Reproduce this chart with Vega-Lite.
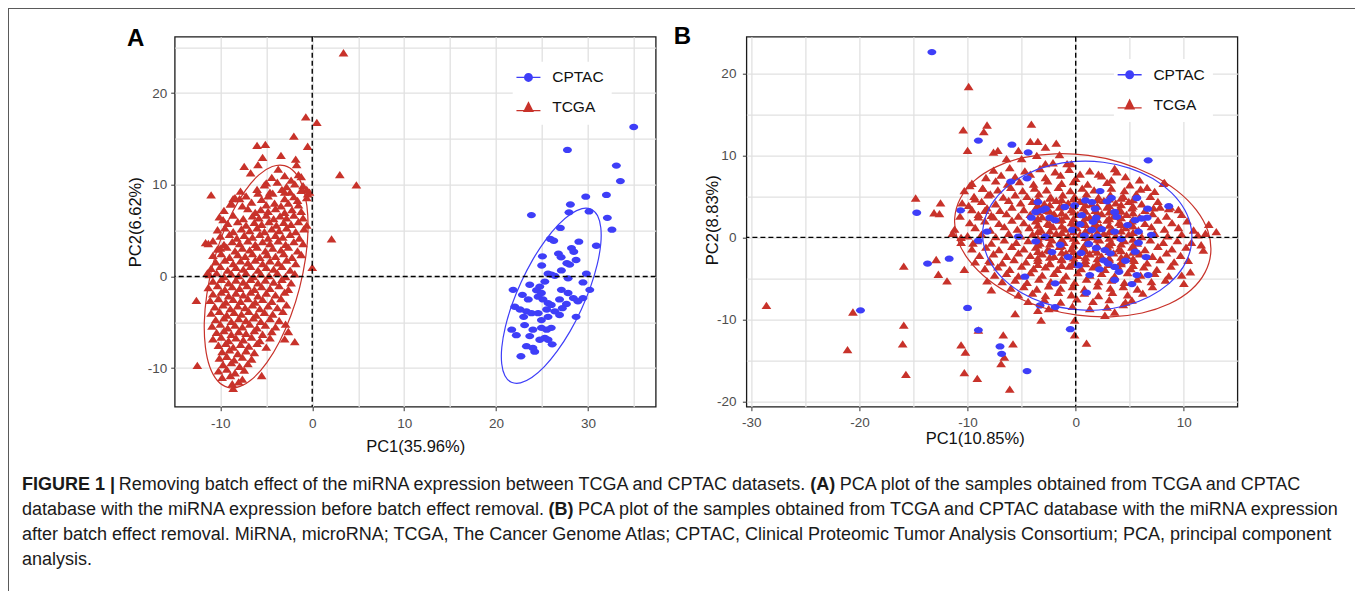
{
"$schema":"https://vega.github.io/schema/vega-lite/v6.json",
"background":"white",
"padding":{"left":8,"top":8,"right":0,"bottom":0},
"config":{
"view":{"stroke":null},
"font":"Liberation Sans",
"axis":{"domain":false,"grid":true,"gridColor":"#E1E1E1","gridWidth":1.3,"tickColor":"#333333","tickSize":4,"tickWidth":1,"labelColor":"#4D4D4D","labelFont":"Liberation Sans","labelFontSize":13.5,"titleFont":"Liberation Sans","titleFontSize":16.5,"titleFontWeight":"normal","titleColor":"#111111","labelOverlap":false,"labelFlush":false}
},
"datasets":{
"groups":[{"g":"CPTAC"},{"g":"TCGA"}],
"cap":[
{"line":1,"part":1,"text":"FIGURE 1 |"},
{"line":1,"part":2,"text":"Removing batch effect of the miRNA expression between TCGA and CPTAC datasets."},
{"line":1,"part":3,"text":"(A)"},
{"line":1,"part":4,"text":"PCA plot of the samples obtained from TCGA and CPTAC"},
{"line":2,"part":1,"text":"database with the miRNA expression before batch effect removal."},
{"line":2,"part":2,"text":"(B)"},
{"line":2,"part":3,"text":"PCA plot of the samples obtained from TCGA and CPTAC database with the miRNA expression"},
{"line":3,"part":1,"text":"after batch effect removal. MiRNA, microRNA; TCGA, The Cancer Genome Atlas; CPTAC, Clinical Proteomic Tumor Analysis Consortium; PCA, principal component"},
{"line":4,"part":1,"text":"analysis."}
],
"ea":[
{"g":"TCGA","i":0,"x":-3.02,"y":12.09},{"g":"TCGA","i":1,"x":-4.35,"y":11.99},{"g":"TCGA","i":2,"x":-5.8,"y":11.08},{"g":"TCGA","i":3,"x":-7.26,"y":9.4},{"g":"TCGA","i":4,"x":-8.65,"y":7.09},{"g":"TCGA","i":5,"x":-9.87,"y":4.29},{"g":"TCGA","i":6,"x":-10.83,"y":1.21},{"g":"TCGA","i":7,"x":-11.47,"y":-1.97},{"g":"TCGA","i":8,"x":-11.74,"y":-5.0},{"g":"TCGA","i":9,"x":-11.62,"y":-7.7},{"g":"TCGA","i":10,"x":-11.14,"y":-9.87},{"g":"TCGA","i":11,"x":-10.3,"y":-11.37},{"g":"TCGA","i":12,"x":-9.18,"y":-12.09},{"g":"TCGA","i":13,"x":-7.85,"y":-11.99},{"g":"TCGA","i":14,"x":-6.41,"y":-11.08},{"g":"TCGA","i":15,"x":-4.94,"y":-9.4},{"g":"TCGA","i":16,"x":-3.55,"y":-7.09},{"g":"TCGA","i":17,"x":-2.33,"y":-4.29},{"g":"TCGA","i":18,"x":-1.37,"y":-1.21},{"g":"TCGA","i":19,"x":-0.73,"y":1.97},{"g":"TCGA","i":20,"x":-0.46,"y":5.0},{"g":"TCGA","i":21,"x":-0.58,"y":7.7},{"g":"TCGA","i":22,"x":-1.07,"y":9.87},{"g":"TCGA","i":23,"x":-1.9,"y":11.37},
{"g":"CPTAC","i":0,"x":30.34,"y":7.33},{"g":"CPTAC","i":1,"x":29.34,"y":7.4},{"g":"CPTAC","i":2,"x":28.12,"y":6.82},{"g":"CPTAC","i":3,"x":26.75,"y":5.63},{"g":"CPTAC","i":4,"x":25.34,"y":3.92},{"g":"CPTAC","i":5,"x":23.96,"y":1.79},{"g":"CPTAC","i":6,"x":22.73,"y":-0.6},{"g":"CPTAC","i":7,"x":21.72,"y":-3.09},{"g":"CPTAC","i":8,"x":21.0,"y":-5.51},{"g":"CPTAC","i":9,"x":20.62,"y":-7.71},{"g":"CPTAC","i":10,"x":20.61,"y":-9.51},{"g":"CPTAC","i":11,"x":20.96,"y":-10.82},{"g":"CPTAC","i":12,"x":21.66,"y":-11.53},{"g":"CPTAC","i":13,"x":22.66,"y":-11.6},{"g":"CPTAC","i":14,"x":23.88,"y":-11.02},{"g":"CPTAC","i":15,"x":25.25,"y":-9.83},{"g":"CPTAC","i":16,"x":26.66,"y":-8.12},{"g":"CPTAC","i":17,"x":28.04,"y":-5.99},{"g":"CPTAC","i":18,"x":29.27,"y":-3.6},{"g":"CPTAC","i":19,"x":30.28,"y":-1.11},{"g":"CPTAC","i":20,"x":31.0,"y":1.31},{"g":"CPTAC","i":21,"x":31.38,"y":3.51},{"g":"CPTAC","i":22,"x":31.39,"y":5.31},{"g":"CPTAC","i":23,"x":31.04,"y":6.62}
],
"eb":[
{"g":"TCGA","i":0,"x":11.96,"y":-4.27},{"g":"TCGA","i":1,"x":12.49,"y":-1.83},{"g":"TCGA","i":2,"x":12.22,"y":0.77},{"g":"TCGA","i":3,"x":11.16,"y":3.32},{"g":"TCGA","i":4,"x":9.38,"y":5.67},{"g":"TCGA","i":5,"x":7.0,"y":7.64},{"g":"TCGA","i":6,"x":4.2,"y":9.12},{"g":"TCGA","i":7,"x":1.15,"y":9.99},{"g":"TCGA","i":8,"x":-1.93,"y":10.19},{"g":"TCGA","i":9,"x":-4.84,"y":9.72},{"g":"TCGA","i":10,"x":-7.37,"y":8.6},{"g":"TCGA","i":11,"x":-9.36,"y":6.92},{"g":"TCGA","i":12,"x":-10.66,"y":4.77},{"g":"TCGA","i":13,"x":-11.19,"y":2.33},{"g":"TCGA","i":14,"x":-10.92,"y":-0.27},{"g":"TCGA","i":15,"x":-9.86,"y":-2.82},{"g":"TCGA","i":16,"x":-8.08,"y":-5.17},{"g":"TCGA","i":17,"x":-5.7,"y":-7.14},{"g":"TCGA","i":18,"x":-2.9,"y":-8.62},{"g":"TCGA","i":19,"x":0.15,"y":-9.49},{"g":"TCGA","i":20,"x":3.23,"y":-9.69},{"g":"TCGA","i":21,"x":6.14,"y":-9.22},{"g":"TCGA","i":22,"x":8.67,"y":-8.1},{"g":"TCGA","i":23,"x":10.66,"y":-6.42},
{"g":"CPTAC","i":0,"x":10.63,"y":-1.37},{"g":"CPTAC","i":1,"x":10.69,"y":1.01},{"g":"CPTAC","i":2,"x":10.09,"y":3.33},{"g":"CPTAC","i":3,"x":8.87,"y":5.43},{"g":"CPTAC","i":4,"x":7.12,"y":7.18},{"g":"CPTAC","i":5,"x":4.96,"y":8.45},{"g":"CPTAC","i":6,"x":2.54,"y":9.16},{"g":"CPTAC","i":7,"x":0.01,"y":9.26},{"g":"CPTAC","i":8,"x":-2.44,"y":8.74},{"g":"CPTAC","i":9,"x":-4.66,"y":7.64},{"g":"CPTAC","i":10,"x":-6.48,"y":6.04},{"g":"CPTAC","i":11,"x":-7.79,"y":4.03},{"g":"CPTAC","i":12,"x":-8.49,"y":1.77},{"g":"CPTAC","i":13,"x":-8.55,"y":-0.61},{"g":"CPTAC","i":14,"x":-7.95,"y":-2.93},{"g":"CPTAC","i":15,"x":-6.73,"y":-5.03},{"g":"CPTAC","i":16,"x":-4.98,"y":-6.78},{"g":"CPTAC","i":17,"x":-2.82,"y":-8.05},{"g":"CPTAC","i":18,"x":-0.4,"y":-8.76},{"g":"CPTAC","i":19,"x":2.13,"y":-8.86},{"g":"CPTAC","i":20,"x":4.58,"y":-8.34},{"g":"CPTAC","i":21,"x":6.8,"y":-7.24},{"g":"CPTAC","i":22,"x":8.62,"y":-5.64},{"g":"CPTAC","i":23,"x":9.93,"y":-3.63}
],
"a":[
{"g":"TCGA","x":3.4,"y":24.4},{"g":"TCGA","x":-0.7,"y":17.4},{"g":"TCGA","x":0.5,"y":16.8},{"g":"TCGA","x":-2.0,"y":15.3},{"g":"TCGA","x":-0.5,"y":14.2},{"g":"TCGA","x":-6.0,"y":14.3},{"g":"TCGA","x":-5.1,"y":14.4},{"g":"TCGA","x":-5.4,"y":13.0},{"g":"TCGA","x":-3.4,"y":13.2},{"g":"TCGA","x":-1.8,"y":12.8},{"g":"TCGA","x":-7.4,"y":12.0},{"g":"TCGA","x":-5.9,"y":12.2},{"g":"TCGA","x":-6.7,"y":11.3},{"g":"TCGA","x":-3.7,"y":11.7},{"g":"TCGA","x":-1.7,"y":12.2},{"g":"TCGA","x":-1.5,"y":11.1},{"g":"TCGA","x":-1.2,"y":10.9},{"g":"TCGA","x":3.0,"y":11.1},{"g":"TCGA","x":4.8,"y":10.0},{"g":"TCGA","x":-11.0,"y":8.9},{"g":"TCGA","x":-5.0,"y":10.2},{"g":"TCGA","x":-5.9,"y":9.1},{"g":"TCGA","x":-4.6,"y":9.2},{"g":"TCGA","x":-0.6,"y":9.5},{"g":"TCGA","x":-0.3,"y":9.2},{"g":"TCGA","x":-8.6,"y":8.5},{"g":"TCGA","x":-7.9,"y":8.5},{"g":"TCGA","x":-8.8,"y":8.0},{"g":"TCGA","x":-3.0,"y":9.2},{"g":"TCGA","x":2.1,"y":4.1},{"g":"TCGA","x":0.0,"y":1.0},{"g":"TCGA","x":-12.6,"y":-2.6},{"g":"TCGA","x":-12.5,"y":-9.7},{"g":"TCGA","x":-5.5,"y":-10.8},{"g":"TCGA","x":-8.6,"y":-12.2},{"g":"TCGA","x":-11.3,"y":3.6},{"g":"TCGA","x":-11.4,"y":0.4},{"g":"TCGA","x":-1.9,"y":-7.1},{"g":"TCGA","x":-3.0,"y":-6.8},{"g":"TCGA","x":-2.6,"y":-6.0},{"g":"TCGA","x":-9.7,"y":6.2},{"g":"TCGA","x":-10.0,"y":3.1},
{"g":"TCGA","x":-4.4,"y":10.8},{"g":"TCGA","x":-3.0,"y":11.0},{"g":"TCGA","x":-2.3,"y":10.5},
{"g":"TCGA","x":-5.2,"y":10.0},{"g":"TCGA","x":-3.8,"y":10.3},{"g":"TCGA","x":-2.8,"y":9.8},{"g":"TCGA","x":-1.9,"y":10.1},{"g":"TCGA","x":-1.0,"y":9.9},
{"g":"TCGA","x":-7.8,"y":9.3},{"g":"TCGA","x":-6.0,"y":9.5},{"g":"TCGA","x":-4.3,"y":9.1},{"g":"TCGA","x":-3.3,"y":9.5},{"g":"TCGA","x":-2.4,"y":9.2},{"g":"TCGA","x":-1.2,"y":9.4},{"g":"TCGA","x":-0.5,"y":9.0},
{"g":"TCGA","x":-8.4,"y":8.6},{"g":"TCGA","x":-7.2,"y":8.8},{"g":"TCGA","x":-5.5,"y":8.4},{"g":"TCGA","x":-4.8,"y":8.8},{"g":"TCGA","x":-3.0,"y":8.5},{"g":"TCGA","x":-2.0,"y":8.7},{"g":"TCGA","x":-1.6,"y":8.3},{"g":"TCGA","x":-0.6,"y":8.6},
{"g":"TCGA","x":-8.9,"y":7.9},{"g":"TCGA","x":-7.6,"y":7.7},{"g":"TCGA","x":-6.6,"y":8.1},{"g":"TCGA","x":-5.0,"y":7.8},{"g":"TCGA","x":-4.1,"y":8.0},{"g":"TCGA","x":-3.4,"y":7.7},{"g":"TCGA","x":-2.6,"y":8.0},{"g":"TCGA","x":-1.5,"y":7.8},
{"g":"TCGA","x":-9.6,"y":7.2},{"g":"TCGA","x":-7.0,"y":7.4},{"g":"TCGA","x":-6.2,"y":7.0},{"g":"TCGA","x":-5.6,"y":7.3},{"g":"TCGA","x":-4.8,"y":7.1},{"g":"TCGA","x":-4.0,"y":7.4},{"g":"TCGA","x":-3.0,"y":7.0},{"g":"TCGA","x":-2.2,"y":7.3},{"g":"TCGA","x":-1.2,"y":7.1},
{"g":"TCGA","x":-10.1,"y":6.5},{"g":"TCGA","x":-8.6,"y":6.7},{"g":"TCGA","x":-7.5,"y":6.3},{"g":"TCGA","x":-6.5,"y":6.6},{"g":"TCGA","x":-5.8,"y":6.4},{"g":"TCGA","x":-5.0,"y":6.7},{"g":"TCGA","x":-4.2,"y":6.3},{"g":"TCGA","x":-3.5,"y":6.6},{"g":"TCGA","x":-2.8,"y":6.4},{"g":"TCGA","x":-2.0,"y":6.7},{"g":"TCGA","x":-1.0,"y":6.4},
{"g":"TCGA","x":-9.2,"y":5.8},{"g":"TCGA","x":-8.1,"y":6.0},{"g":"TCGA","x":-7.2,"y":5.6},{"g":"TCGA","x":-6.3,"y":5.9},{"g":"TCGA","x":-5.5,"y":5.7},{"g":"TCGA","x":-4.7,"y":6.0},{"g":"TCGA","x":-3.9,"y":5.6},{"g":"TCGA","x":-3.1,"y":5.9},{"g":"TCGA","x":-2.3,"y":5.7},{"g":"TCGA","x":-1.5,"y":6.0},{"g":"TCGA","x":-0.6,"y":5.6},
{"g":"TCGA","x":-10.3,"y":5.1},{"g":"TCGA","x":-9.5,"y":5.3},{"g":"TCGA","x":-8.6,"y":4.9},{"g":"TCGA","x":-7.7,"y":5.2},{"g":"TCGA","x":-6.8,"y":5.0},{"g":"TCGA","x":-6.0,"y":5.3},{"g":"TCGA","x":-5.2,"y":4.9},{"g":"TCGA","x":-4.4,"y":5.2},{"g":"TCGA","x":-3.6,"y":5.0},{"g":"TCGA","x":-2.8,"y":5.3},{"g":"TCGA","x":-1.8,"y":4.9},{"g":"TCGA","x":-0.9,"y":5.2},
{"g":"TCGA","x":-10.0,"y":4.4},{"g":"TCGA","x":-9.0,"y":4.6},{"g":"TCGA","x":-8.2,"y":4.2},{"g":"TCGA","x":-7.4,"y":4.5},{"g":"TCGA","x":-6.5,"y":4.3},{"g":"TCGA","x":-5.7,"y":4.6},{"g":"TCGA","x":-4.8,"y":4.2},{"g":"TCGA","x":-4.0,"y":4.5},{"g":"TCGA","x":-3.2,"y":4.3},{"g":"TCGA","x":-2.4,"y":4.6},{"g":"TCGA","x":-1.4,"y":4.2},
{"g":"TCGA","x":-11.6,"y":3.7},{"g":"TCGA","x":-10.8,"y":3.9},{"g":"TCGA","x":-9.6,"y":3.5},{"g":"TCGA","x":-8.7,"y":3.8},{"g":"TCGA","x":-7.9,"y":3.6},{"g":"TCGA","x":-7.0,"y":3.9},{"g":"TCGA","x":-6.2,"y":3.5},{"g":"TCGA","x":-5.4,"y":3.8},{"g":"TCGA","x":-4.6,"y":3.6},{"g":"TCGA","x":-3.7,"y":3.9},{"g":"TCGA","x":-2.9,"y":3.5},{"g":"TCGA","x":-2.0,"y":3.8},{"g":"TCGA","x":-1.0,"y":3.6},
{"g":"TCGA","x":-10.3,"y":3.0},{"g":"TCGA","x":-9.3,"y":3.2},{"g":"TCGA","x":-8.4,"y":2.8},{"g":"TCGA","x":-7.6,"y":3.1},{"g":"TCGA","x":-6.8,"y":2.9},{"g":"TCGA","x":-6.0,"y":3.2},{"g":"TCGA","x":-5.1,"y":2.8},{"g":"TCGA","x":-4.3,"y":3.1},{"g":"TCGA","x":-3.4,"y":2.9},{"g":"TCGA","x":-2.6,"y":3.2},{"g":"TCGA","x":-1.6,"y":2.8},
{"g":"TCGA","x":-10.8,"y":2.3},{"g":"TCGA","x":-9.9,"y":2.5},{"g":"TCGA","x":-9.0,"y":2.1},{"g":"TCGA","x":-8.1,"y":2.4},{"g":"TCGA","x":-7.3,"y":2.2},{"g":"TCGA","x":-6.5,"y":2.5},{"g":"TCGA","x":-5.7,"y":2.1},{"g":"TCGA","x":-4.9,"y":2.4},{"g":"TCGA","x":-4.0,"y":2.2},{"g":"TCGA","x":-3.1,"y":2.5},{"g":"TCGA","x":-2.2,"y":2.1},{"g":"TCGA","x":-1.2,"y":2.4},
{"g":"TCGA","x":-10.5,"y":1.6},{"g":"TCGA","x":-9.5,"y":1.8},{"g":"TCGA","x":-8.6,"y":1.4},{"g":"TCGA","x":-7.8,"y":1.7},{"g":"TCGA","x":-7.0,"y":1.5},{"g":"TCGA","x":-6.2,"y":1.8},{"g":"TCGA","x":-5.4,"y":1.4},{"g":"TCGA","x":-4.6,"y":1.7},{"g":"TCGA","x":-3.7,"y":1.5},{"g":"TCGA","x":-2.8,"y":1.8},{"g":"TCGA","x":-1.8,"y":1.4},
{"g":"TCGA","x":-11.0,"y":0.9},{"g":"TCGA","x":-10.0,"y":1.1},{"g":"TCGA","x":-9.2,"y":0.7},{"g":"TCGA","x":-8.3,"y":1.0},{"g":"TCGA","x":-7.5,"y":0.8},{"g":"TCGA","x":-6.7,"y":1.1},{"g":"TCGA","x":-5.9,"y":0.7},{"g":"TCGA","x":-5.0,"y":1.0},{"g":"TCGA","x":-4.2,"y":0.8},{"g":"TCGA","x":-3.3,"y":1.1},{"g":"TCGA","x":-2.4,"y":0.7},
{"g":"TCGA","x":-11.2,"y":0.2},{"g":"TCGA","x":-10.4,"y":0.4},{"g":"TCGA","x":-9.6,"y":0.0},{"g":"TCGA","x":-8.8,"y":0.3},{"g":"TCGA","x":-8.0,"y":0.1},{"g":"TCGA","x":-7.2,"y":0.4},{"g":"TCGA","x":-6.4,"y":0.0},{"g":"TCGA","x":-5.6,"y":0.3},{"g":"TCGA","x":-4.7,"y":0.1},{"g":"TCGA","x":-3.8,"y":0.4},{"g":"TCGA","x":-2.9,"y":0.0},{"g":"TCGA","x":-1.9,"y":0.3},
{"g":"TCGA","x":-10.8,"y":-0.5},{"g":"TCGA","x":-9.9,"y":-0.3},{"g":"TCGA","x":-9.1,"y":-0.7},{"g":"TCGA","x":-8.3,"y":-0.4},{"g":"TCGA","x":-7.5,"y":-0.6},{"g":"TCGA","x":-6.7,"y":-0.3},{"g":"TCGA","x":-5.9,"y":-0.7},{"g":"TCGA","x":-5.1,"y":-0.4},{"g":"TCGA","x":-4.2,"y":-0.6},{"g":"TCGA","x":-3.3,"y":-0.3},{"g":"TCGA","x":-2.3,"y":-0.7},
{"g":"TCGA","x":-11.3,"y":-1.2},{"g":"TCGA","x":-10.3,"y":-1.0},{"g":"TCGA","x":-9.5,"y":-1.4},{"g":"TCGA","x":-8.7,"y":-1.1},{"g":"TCGA","x":-7.9,"y":-1.3},{"g":"TCGA","x":-7.1,"y":-1.0},{"g":"TCGA","x":-6.3,"y":-1.4},{"g":"TCGA","x":-5.5,"y":-1.1},{"g":"TCGA","x":-4.6,"y":-1.3},{"g":"TCGA","x":-3.6,"y":-1.0},{"g":"TCGA","x":-2.6,"y":-1.4},
{"g":"TCGA","x":-10.8,"y":-1.9},{"g":"TCGA","x":-9.9,"y":-1.7},{"g":"TCGA","x":-9.1,"y":-2.1},{"g":"TCGA","x":-8.3,"y":-1.8},{"g":"TCGA","x":-7.5,"y":-2.0},{"g":"TCGA","x":-6.7,"y":-1.7},{"g":"TCGA","x":-5.9,"y":-2.1},{"g":"TCGA","x":-5.0,"y":-1.8},{"g":"TCGA","x":-4.0,"y":-2.0},{"g":"TCGA","x":-3.0,"y":-1.7},
{"g":"TCGA","x":-11.1,"y":-2.6},{"g":"TCGA","x":-10.2,"y":-2.4},{"g":"TCGA","x":-9.4,"y":-2.8},{"g":"TCGA","x":-8.6,"y":-2.5},{"g":"TCGA","x":-7.8,"y":-2.7},{"g":"TCGA","x":-7.0,"y":-2.4},{"g":"TCGA","x":-6.2,"y":-2.8},{"g":"TCGA","x":-5.4,"y":-2.5},{"g":"TCGA","x":-4.4,"y":-2.7},{"g":"TCGA","x":-3.4,"y":-2.4},
{"g":"TCGA","x":-10.6,"y":-3.3},{"g":"TCGA","x":-9.7,"y":-3.1},{"g":"TCGA","x":-8.9,"y":-3.5},{"g":"TCGA","x":-8.1,"y":-3.2},{"g":"TCGA","x":-7.3,"y":-3.4},{"g":"TCGA","x":-6.5,"y":-3.1},{"g":"TCGA","x":-5.7,"y":-3.5},{"g":"TCGA","x":-4.8,"y":-3.2},{"g":"TCGA","x":-3.8,"y":-3.4},{"g":"TCGA","x":-2.8,"y":-3.1},
{"g":"TCGA","x":-11.0,"y":-4.0},{"g":"TCGA","x":-10.1,"y":-3.8},{"g":"TCGA","x":-9.3,"y":-4.2},{"g":"TCGA","x":-8.5,"y":-3.9},{"g":"TCGA","x":-7.7,"y":-4.1},{"g":"TCGA","x":-6.9,"y":-3.8},{"g":"TCGA","x":-6.1,"y":-4.2},{"g":"TCGA","x":-5.2,"y":-3.9},{"g":"TCGA","x":-4.3,"y":-4.1},{"g":"TCGA","x":-3.2,"y":-3.8},
{"g":"TCGA","x":-10.5,"y":-4.7},{"g":"TCGA","x":-9.6,"y":-4.5},{"g":"TCGA","x":-8.8,"y":-4.9},{"g":"TCGA","x":-8.0,"y":-4.6},{"g":"TCGA","x":-7.2,"y":-4.8},{"g":"TCGA","x":-6.4,"y":-4.5},{"g":"TCGA","x":-5.6,"y":-4.9},{"g":"TCGA","x":-4.6,"y":-4.6},{"g":"TCGA","x":-3.6,"y":-4.8},
{"g":"TCGA","x":-10.9,"y":-5.4},{"g":"TCGA","x":-10.0,"y":-5.2},{"g":"TCGA","x":-9.2,"y":-5.6},{"g":"TCGA","x":-8.4,"y":-5.3},{"g":"TCGA","x":-7.6,"y":-5.5},{"g":"TCGA","x":-6.8,"y":-5.2},{"g":"TCGA","x":-6.0,"y":-5.6},{"g":"TCGA","x":-5.1,"y":-5.3},{"g":"TCGA","x":-4.0,"y":-5.5},{"g":"TCGA","x":-2.9,"y":-5.2},
{"g":"TCGA","x":-10.4,"y":-6.1},{"g":"TCGA","x":-9.6,"y":-5.9},{"g":"TCGA","x":-8.8,"y":-6.3},{"g":"TCGA","x":-8.0,"y":-6.0},{"g":"TCGA","x":-7.2,"y":-6.2},{"g":"TCGA","x":-6.3,"y":-5.9},{"g":"TCGA","x":-5.4,"y":-6.3},{"g":"TCGA","x":-4.4,"y":-6.0},
{"g":"TCGA","x":-10.8,"y":-6.8},{"g":"TCGA","x":-9.9,"y":-6.6},{"g":"TCGA","x":-9.1,"y":-7.0},{"g":"TCGA","x":-8.3,"y":-6.7},{"g":"TCGA","x":-7.5,"y":-6.9},{"g":"TCGA","x":-6.6,"y":-6.6},{"g":"TCGA","x":-5.7,"y":-7.0},{"g":"TCGA","x":-4.6,"y":-6.7},
{"g":"TCGA","x":-10.2,"y":-7.5},{"g":"TCGA","x":-9.4,"y":-7.3},{"g":"TCGA","x":-8.6,"y":-7.7},{"g":"TCGA","x":-7.8,"y":-7.4},{"g":"TCGA","x":-6.9,"y":-7.6},{"g":"TCGA","x":-6.0,"y":-7.3},{"g":"TCGA","x":-5.0,"y":-7.7},
{"g":"TCGA","x":-9.8,"y":-8.2},{"g":"TCGA","x":-9.0,"y":-8.0},{"g":"TCGA","x":-8.1,"y":-8.4},{"g":"TCGA","x":-7.2,"y":-8.1},{"g":"TCGA","x":-6.3,"y":-8.3},
{"g":"TCGA","x":-10.1,"y":-8.9},{"g":"TCGA","x":-9.3,"y":-8.7},{"g":"TCGA","x":-8.5,"y":-9.1},{"g":"TCGA","x":-7.6,"y":-8.8},{"g":"TCGA","x":-6.6,"y":-9.0},
{"g":"TCGA","x":-9.7,"y":-9.6},{"g":"TCGA","x":-8.8,"y":-9.4},{"g":"TCGA","x":-7.9,"y":-9.8},{"g":"TCGA","x":-7.0,"y":-9.5},
{"g":"TCGA","x":-10.2,"y":-10.3},{"g":"TCGA","x":-9.3,"y":-10.1},{"g":"TCGA","x":-8.4,"y":-10.5},{"g":"TCGA","x":-7.4,"y":-10.2},
{"g":"TCGA","x":-9.8,"y":-11.0},{"g":"TCGA","x":-8.9,"y":-10.8},{"g":"TCGA","x":-7.6,"y":-11.2},
{"g":"TCGA","x":-8.7,"y":-11.7},{"g":"TCGA","x":-8.0,"y":-11.5},
{"g":"CPTAC","x":34.97,"y":16.3},{"g":"CPTAC","x":27.76,"y":13.8},{"g":"CPTAC","x":33.08,"y":12.1},{"g":"CPTAC","x":33.52,"y":10.4},{"g":"CPTAC","x":29.75,"y":8.7},{"g":"CPTAC","x":32.0,"y":8.9},{"g":"CPTAC","x":28.08,"y":7.85},{"g":"CPTAC","x":27.93,"y":7.0},{"g":"CPTAC","x":30.11,"y":7.1},{"g":"CPTAC","x":23.84,"y":6.7},{"g":"CPTAC","x":32.1,"y":6.4},{"g":"CPTAC","x":32.6,"y":5.1},{"g":"CPTAC","x":26.99,"y":5.3},{"g":"CPTAC","x":25.9,"y":4.1},{"g":"CPTAC","x":26.27,"y":3.9},{"g":"CPTAC","x":29.0,"y":3.8},{"g":"CPTAC","x":30.9,"y":3.35},{"g":"CPTAC","x":28.2,"y":3.1},{"g":"CPTAC","x":28.45,"y":2.7},{"g":"CPTAC","x":26.78,"y":2.5},{"g":"CPTAC","x":27.07,"y":2.1},{"g":"CPTAC","x":25.04,"y":2.2},{"g":"CPTAC","x":28.7,"y":1.8},{"g":"CPTAC","x":27.7,"y":1.45},{"g":"CPTAC","x":28.0,"y":1.3},{"g":"CPTAC","x":24.96,"y":1.2},{"g":"CPTAC","x":27.1,"y":0.66},{"g":"CPTAC","x":25.65,"y":0.3},{"g":"CPTAC","x":26.02,"y":0.2},{"g":"CPTAC","x":26.38,"y":0.07},{"g":"CPTAC","x":29.82,"y":0.3},{"g":"CPTAC","x":27.83,"y":-0.2},{"g":"CPTAC","x":25.3,"y":-0.55},{"g":"CPTAC","x":24.75,"y":-1.1},{"g":"CPTAC","x":24.4,"y":-1.5},{"g":"CPTAC","x":24.93,"y":-1.8},{"g":"CPTAC","x":29.45,"y":-0.65},{"g":"CPTAC","x":21.85,"y":-1.45},{"g":"CPTAC","x":23.66,"y":-0.9},{"g":"CPTAC","x":27.1,"y":-1.45},{"g":"CPTAC","x":30.19,"y":-1.45},{"g":"CPTAC","x":22.86,"y":-2.0},{"g":"CPTAC","x":24.57,"y":-2.2},{"g":"CPTAC","x":25.1,"y":-2.5},{"g":"CPTAC","x":25.65,"y":-2.9},{"g":"CPTAC","x":26.0,"y":-3.1},{"g":"CPTAC","x":27.83,"y":-1.8},{"g":"CPTAC","x":28.4,"y":-2.35},{"g":"CPTAC","x":28.9,"y":-2.7},{"g":"CPTAC","x":29.45,"y":-2.35},{"g":"CPTAC","x":22.03,"y":-3.3},{"g":"CPTAC","x":22.6,"y":-3.6},{"g":"CPTAC","x":23.3,"y":-3.8},{"g":"CPTAC","x":23.85,"y":-4.0},{"g":"CPTAC","x":24.57,"y":-4.0},{"g":"CPTAC","x":25.5,"y":-3.6},{"g":"CPTAC","x":26.38,"y":-3.8},{"g":"CPTAC","x":26.9,"y":-4.2},{"g":"CPTAC","x":27.65,"y":-3.0},{"g":"CPTAC","x":28.7,"y":-4.4},{"g":"CPTAC","x":24.93,"y":-4.75},{"g":"CPTAC","x":25.65,"y":-4.4},{"g":"CPTAC","x":21.7,"y":-5.8},{"g":"CPTAC","x":22.2,"y":-6.4},{"g":"CPTAC","x":23.1,"y":-5.3},{"g":"CPTAC","x":23.66,"y":-6.5},{"g":"CPTAC","x":24.93,"y":-5.6},{"g":"CPTAC","x":25.5,"y":-5.8},{"g":"CPTAC","x":26.0,"y":-5.6},{"g":"CPTAC","x":24.75,"y":-6.9},{"g":"CPTAC","x":25.3,"y":-6.7},{"g":"CPTAC","x":25.65,"y":-6.9},{"g":"CPTAC","x":23.3,"y":-7.6},{"g":"CPTAC","x":24.0,"y":-7.8},{"g":"CPTAC","x":24.2,"y":-8.2},{"g":"CPTAC","x":26.1,"y":-7.4},{"g":"CPTAC","x":22.7,"y":-8.7},{"g":"CPTAC","x":26.9,"y":-2.5},{"g":"CPTAC","x":27.2,"y":-3.45},{"g":"CPTAC","x":23.5,"y":-2.5},{"g":"CPTAC","x":23.0,"y":-4.4},{"g":"CPTAC","x":24.0,"y":-5.8}
],
"b":[
{"g":"TCGA","x":-9.9,"y":18.4},{"g":"TCGA","x":-10.4,"y":13.1},{"g":"TCGA","x":-8.2,"y":13.7},{"g":"TCGA","x":-8.5,"y":12.9},{"g":"TCGA","x":-10.0,"y":10.6},{"g":"TCGA","x":-7.6,"y":10.4},{"g":"TCGA","x":-9.8,"y":6.3},{"g":"TCGA","x":-8.6,"y":6.0},{"g":"TCGA","x":-8.1,"y":5.2},{"g":"TCGA","x":-9.3,"y":4.7},{"g":"TCGA","x":-14.8,"y":4.8},{"g":"TCGA","x":-12.5,"y":4.2},{"g":"TCGA","x":-13.1,"y":3.0},{"g":"TCGA","x":-12.6,"y":2.9},{"g":"TCGA","x":-9.9,"y":3.9},{"g":"TCGA","x":-8.4,"y":3.3},{"g":"TCGA","x":-9.0,"y":2.5},{"g":"TCGA","x":-7.8,"y":2.7},
{"g":"TCGA","x":-4.1,"y":13.8},{"g":"TCGA","x":-4.2,"y":11.7},{"g":"TCGA","x":-3.5,"y":11.7},{"g":"TCGA","x":-2.8,"y":11.0},{"g":"TCGA","x":-1.8,"y":11.5},{"g":"TCGA","x":-7.2,"y":10.6},{"g":"TCGA","x":-5.3,"y":10.6},{"g":"TCGA","x":-1.5,"y":10.1},{"g":"TCGA","x":-6.4,"y":9.6},{"g":"TCGA","x":-5.0,"y":9.6},{"g":"TCGA","x":-3.6,"y":10.0},{"g":"TCGA","x":-2.8,"y":9.0},{"g":"TCGA","x":-2.1,"y":9.1},{"g":"TCGA","x":-0.8,"y":9.0},{"g":"TCGA","x":-0.4,"y":9.0},{"g":"TCGA","x":3.6,"y":8.4},{"g":"TCGA","x":3.8,"y":8.0},{"g":"TCGA","x":2.1,"y":7.7},{"g":"TCGA","x":2.4,"y":7.5},{"g":"TCGA","x":0.4,"y":7.7},{"g":"TCGA","x":5.9,"y":7.0},{"g":"TCGA","x":8.1,"y":6.6},{"g":"TCGA","x":7.2,"y":3.6},{"g":"TCGA","x":8.6,"y":3.5},
{"g":"TCGA","x":-11.4,"y":0.5},{"g":"TCGA","x":-10.6,"y":0.0},{"g":"TCGA","x":-9.5,"y":-0.7},{"g":"TCGA","x":-12.9,"y":-2.7},{"g":"TCGA","x":-15.9,"y":-3.5},{"g":"TCGA","x":-12.7,"y":-4.5},{"g":"TCGA","x":-11.9,"y":-5.3},{"g":"TCGA","x":-10.3,"y":-3.9},{"g":"TCGA","x":-8.2,"y":-5.3},{"g":"TCGA","x":-7.8,"y":-6.4},{"g":"TCGA","x":-7.9,"y":-3.0},{"g":"TCGA","x":-28.6,"y":-8.3},{"g":"TCGA","x":-20.6,"y":-9.1},{"g":"TCGA","x":-15.9,"y":-10.7},{"g":"TCGA","x":-9.0,"y":-11.3},{"g":"TCGA","x":-21.1,"y":-13.7},{"g":"TCGA","x":-16.0,"y":-13.0},{"g":"TCGA","x":-10.6,"y":-13.1},{"g":"TCGA","x":-10.2,"y":-14.0},{"g":"TCGA","x":-15.7,"y":-16.7},{"g":"TCGA","x":-10.3,"y":-16.5},{"g":"TCGA","x":-9.1,"y":-17.2},
{"g":"TCGA","x":-5.6,"y":-9.3},{"g":"TCGA","x":-3.2,"y":-10.1},{"g":"TCGA","x":-0.1,"y":-10.1},{"g":"TCGA","x":-0.1,"y":-11.9},{"g":"TCGA","x":1.0,"y":-12.9},{"g":"TCGA","x":-6.7,"y":-11.9},{"g":"TCGA","x":-5.8,"y":-13.0},{"g":"TCGA","x":-6.6,"y":-14.6},{"g":"TCGA","x":-6.9,"y":-15.4},{"g":"TCGA","x":-6.1,"y":-18.5},{"g":"TCGA","x":-3.5,"y":-8.9},{"g":"TCGA","x":-2.5,"y":-8.7},{"g":"TCGA","x":2.7,"y":-9.5},{"g":"TCGA","x":3.6,"y":-9.1},{"g":"TCGA","x":5.2,"y":-7.65},
{"g":"TCGA","x":13.0,"y":0.7},{"g":"TCGA","x":12.3,"y":1.6},{"g":"TCGA","x":11.6,"y":-0.9},{"g":"TCGA","x":11.8,"y":-1.55},{"g":"TCGA","x":10.6,"y":-4.2},{"g":"TCGA","x":9.8,"y":-4.6},{"g":"TCGA","x":10.0,"y":-5.6},{"g":"TCGA","x":8.2,"y":6.7},{"g":"TCGA","x":8.75,"y":3.7},
{"g":"TCGA","x":-7.6,"y":8.2},{"g":"TCGA","x":-6.1,"y":8.5},{"g":"TCGA","x":-4.7,"y":8.1},{"g":"TCGA","x":-3.3,"y":8.4},{"g":"TCGA","x":-1.9,"y":8.0},{"g":"TCGA","x":-0.6,"y":8.3},{"g":"TCGA","x":1.3,"y":8.1},
{"g":"TCGA","x":-8.3,"y":7.3},{"g":"TCGA","x":-6.9,"y":7.6},{"g":"TCGA","x":-5.6,"y":7.4},{"g":"TCGA","x":-4.2,"y":7.7},{"g":"TCGA","x":-2.8,"y":7.3},{"g":"TCGA","x":-1.4,"y":7.6},{"g":"TCGA","x":0.0,"y":7.2},{"g":"TCGA","x":3.3,"y":7.0},{"g":"TCGA","x":4.6,"y":7.4},
{"g":"TCGA","x":-9.6,"y":6.6},{"g":"TCGA","x":-7.4,"y":6.9},{"g":"TCGA","x":-6.3,"y":6.5},{"g":"TCGA","x":-5.2,"y":6.8},{"g":"TCGA","x":-3.9,"y":6.5},{"g":"TCGA","x":-2.6,"y":6.9},{"g":"TCGA","x":-1.3,"y":6.6},{"g":"TCGA","x":-0.2,"y":6.8},{"g":"TCGA","x":1.1,"y":6.5},{"g":"TCGA","x":2.9,"y":6.7},{"g":"TCGA","x":5.0,"y":6.4},{"g":"TCGA","x":6.6,"y":6.1},
{"g":"TCGA","x":-10.3,"y":5.7},{"g":"TCGA","x":-8.6,"y":6.0},{"g":"TCGA","x":-7.2,"y":5.8},{"g":"TCGA","x":-6.0,"y":6.1},{"g":"TCGA","x":-4.9,"y":5.7},{"g":"TCGA","x":-3.8,"y":6.0},{"g":"TCGA","x":-2.7,"y":5.8},{"g":"TCGA","x":-1.6,"y":6.1},{"g":"TCGA","x":-0.5,"y":5.7},{"g":"TCGA","x":0.6,"y":6.0},{"g":"TCGA","x":1.7,"y":5.8},{"g":"TCGA","x":3.3,"y":6.0},{"g":"TCGA","x":4.5,"y":5.7},{"g":"TCGA","x":6.0,"y":5.9},{"g":"TCGA","x":7.3,"y":5.6},
{"g":"TCGA","x":-9.4,"y":5.0},{"g":"TCGA","x":-7.9,"y":5.3},{"g":"TCGA","x":-6.7,"y":4.9},{"g":"TCGA","x":-5.6,"y":5.2},{"g":"TCGA","x":-4.5,"y":5.0},{"g":"TCGA","x":-3.4,"y":5.3},{"g":"TCGA","x":-2.3,"y":4.9},{"g":"TCGA","x":-1.2,"y":5.2},{"g":"TCGA","x":-0.1,"y":5.0},{"g":"TCGA","x":1.0,"y":5.3},{"g":"TCGA","x":2.1,"y":4.9},{"g":"TCGA","x":3.2,"y":5.2},{"g":"TCGA","x":4.4,"y":5.0},{"g":"TCGA","x":5.6,"y":5.3},{"g":"TCGA","x":6.9,"y":5.0},
{"g":"TCGA","x":-10.5,"y":4.2},{"g":"TCGA","x":-8.7,"y":4.4},{"g":"TCGA","x":-7.4,"y":4.1},{"g":"TCGA","x":-6.2,"y":4.5},{"g":"TCGA","x":-5.1,"y":4.2},{"g":"TCGA","x":-4.0,"y":4.4},{"g":"TCGA","x":-2.9,"y":4.1},{"g":"TCGA","x":-1.8,"y":4.5},{"g":"TCGA","x":-0.7,"y":4.2},{"g":"TCGA","x":0.4,"y":4.4},{"g":"TCGA","x":1.5,"y":4.1},{"g":"TCGA","x":2.6,"y":4.5},{"g":"TCGA","x":3.7,"y":4.2},{"g":"TCGA","x":4.9,"y":4.4},{"g":"TCGA","x":6.1,"y":4.1},{"g":"TCGA","x":7.6,"y":4.4},
{"g":"TCGA","x":-9.6,"y":3.4},{"g":"TCGA","x":-8.2,"y":3.6},{"g":"TCGA","x":-7.0,"y":3.3},{"g":"TCGA","x":-5.9,"y":3.7},{"g":"TCGA","x":-4.8,"y":3.4},{"g":"TCGA","x":-3.7,"y":3.6},{"g":"TCGA","x":-2.6,"y":3.3},{"g":"TCGA","x":-1.5,"y":3.7},{"g":"TCGA","x":-0.4,"y":3.4},{"g":"TCGA","x":0.7,"y":3.6},{"g":"TCGA","x":1.8,"y":3.3},{"g":"TCGA","x":2.9,"y":3.7},{"g":"TCGA","x":4.0,"y":3.4},{"g":"TCGA","x":5.2,"y":3.6},{"g":"TCGA","x":6.4,"y":3.3},{"g":"TCGA","x":7.8,"y":3.7},{"g":"TCGA","x":9.5,"y":3.4},
{"g":"TCGA","x":-10.7,"y":2.6},{"g":"TCGA","x":-9.0,"y":2.8},{"g":"TCGA","x":-7.6,"y":2.5},{"g":"TCGA","x":-6.4,"y":2.9},{"g":"TCGA","x":-5.3,"y":2.6},{"g":"TCGA","x":-4.2,"y":2.8},{"g":"TCGA","x":-3.1,"y":2.5},{"g":"TCGA","x":-2.0,"y":2.9},{"g":"TCGA","x":-0.9,"y":2.6},{"g":"TCGA","x":0.2,"y":2.8},{"g":"TCGA","x":1.3,"y":2.5},{"g":"TCGA","x":2.4,"y":2.9},{"g":"TCGA","x":3.5,"y":2.6},{"g":"TCGA","x":4.7,"y":2.8},{"g":"TCGA","x":5.9,"y":2.5},{"g":"TCGA","x":7.1,"y":2.9},{"g":"TCGA","x":8.4,"y":2.6},{"g":"TCGA","x":9.8,"y":2.8},
{"g":"TCGA","x":-9.8,"y":1.8},{"g":"TCGA","x":-8.4,"y":2.0},{"g":"TCGA","x":-7.1,"y":1.7},{"g":"TCGA","x":-5.9,"y":2.1},{"g":"TCGA","x":-4.8,"y":1.8},{"g":"TCGA","x":-3.7,"y":2.0},{"g":"TCGA","x":-2.6,"y":1.7},{"g":"TCGA","x":-1.5,"y":2.1},{"g":"TCGA","x":-0.4,"y":1.8},{"g":"TCGA","x":0.7,"y":2.0},{"g":"TCGA","x":1.8,"y":1.7},{"g":"TCGA","x":2.9,"y":2.1},{"g":"TCGA","x":4.0,"y":1.8},{"g":"TCGA","x":5.2,"y":2.0},{"g":"TCGA","x":6.4,"y":1.7},{"g":"TCGA","x":7.6,"y":2.1},{"g":"TCGA","x":8.9,"y":1.8},{"g":"TCGA","x":10.3,"y":2.0},
{"g":"TCGA","x":-11.2,"y":1.0},{"g":"TCGA","x":-9.3,"y":1.2},{"g":"TCGA","x":-7.9,"y":0.9},{"g":"TCGA","x":-6.6,"y":1.3},{"g":"TCGA","x":-5.4,"y":1.0},{"g":"TCGA","x":-4.3,"y":1.2},{"g":"TCGA","x":-3.2,"y":0.9},{"g":"TCGA","x":-2.1,"y":1.3},{"g":"TCGA","x":-1.0,"y":1.0},{"g":"TCGA","x":0.1,"y":1.2},{"g":"TCGA","x":1.2,"y":0.9},{"g":"TCGA","x":2.3,"y":1.3},{"g":"TCGA","x":3.4,"y":1.0},{"g":"TCGA","x":4.6,"y":1.2},{"g":"TCGA","x":5.8,"y":0.9},{"g":"TCGA","x":7.0,"y":1.3},{"g":"TCGA","x":8.2,"y":1.0},{"g":"TCGA","x":9.5,"y":1.2},{"g":"TCGA","x":10.9,"y":0.9},
{"g":"TCGA","x":-10.0,"y":0.2},{"g":"TCGA","x":-8.7,"y":0.4},{"g":"TCGA","x":-7.4,"y":0.1},{"g":"TCGA","x":-6.2,"y":0.5},{"g":"TCGA","x":-5.1,"y":0.2},{"g":"TCGA","x":-4.0,"y":0.4},{"g":"TCGA","x":-2.9,"y":0.1},{"g":"TCGA","x":-1.8,"y":0.5},{"g":"TCGA","x":-0.7,"y":0.2},{"g":"TCGA","x":0.4,"y":0.4},{"g":"TCGA","x":1.5,"y":0.1},{"g":"TCGA","x":2.6,"y":0.5},{"g":"TCGA","x":3.7,"y":0.2},{"g":"TCGA","x":4.9,"y":0.4},{"g":"TCGA","x":6.1,"y":0.1},{"g":"TCGA","x":7.3,"y":0.5},{"g":"TCGA","x":8.5,"y":0.2},{"g":"TCGA","x":9.8,"y":0.4},{"g":"TCGA","x":11.3,"y":0.3},{"g":"TCGA","x":12.0,"y":0.5},
{"g":"TCGA","x":-10.6,"y":-0.6},{"g":"TCGA","x":-9.1,"y":-0.4},{"g":"TCGA","x":-7.8,"y":-0.7},{"g":"TCGA","x":-6.6,"y":-0.3},{"g":"TCGA","x":-5.5,"y":-0.6},{"g":"TCGA","x":-4.4,"y":-0.4},{"g":"TCGA","x":-3.3,"y":-0.7},{"g":"TCGA","x":-2.2,"y":-0.3},{"g":"TCGA","x":-1.1,"y":-0.6},{"g":"TCGA","x":0.0,"y":-0.4},{"g":"TCGA","x":1.1,"y":-0.7},{"g":"TCGA","x":2.2,"y":-0.3},{"g":"TCGA","x":3.3,"y":-0.6},{"g":"TCGA","x":4.5,"y":-0.4},{"g":"TCGA","x":5.7,"y":-0.7},{"g":"TCGA","x":6.9,"y":-0.3},{"g":"TCGA","x":8.1,"y":-0.6},{"g":"TCGA","x":9.4,"y":-0.4},{"g":"TCGA","x":10.7,"y":-0.6},
{"g":"TCGA","x":-9.6,"y":-1.4},{"g":"TCGA","x":-8.3,"y":-1.2},{"g":"TCGA","x":-7.1,"y":-1.5},{"g":"TCGA","x":-5.9,"y":-1.1},{"g":"TCGA","x":-4.8,"y":-1.4},{"g":"TCGA","x":-3.7,"y":-1.2},{"g":"TCGA","x":-2.6,"y":-1.5},{"g":"TCGA","x":-1.5,"y":-1.1},{"g":"TCGA","x":-0.4,"y":-1.4},{"g":"TCGA","x":0.7,"y":-1.2},{"g":"TCGA","x":1.8,"y":-1.5},{"g":"TCGA","x":2.9,"y":-1.1},{"g":"TCGA","x":4.0,"y":-1.4},{"g":"TCGA","x":5.2,"y":-1.2},{"g":"TCGA","x":6.4,"y":-1.5},{"g":"TCGA","x":7.6,"y":-1.1},{"g":"TCGA","x":8.9,"y":-1.4},{"g":"TCGA","x":10.2,"y":-1.2},
{"g":"TCGA","x":-8.9,"y":-2.2},{"g":"TCGA","x":-7.6,"y":-2.0},{"g":"TCGA","x":-6.4,"y":-2.3},{"g":"TCGA","x":-5.3,"y":-1.9},{"g":"TCGA","x":-4.2,"y":-2.2},{"g":"TCGA","x":-3.1,"y":-2.0},{"g":"TCGA","x":-2.0,"y":-2.3},{"g":"TCGA","x":-0.9,"y":-1.9},{"g":"TCGA","x":0.2,"y":-2.2},{"g":"TCGA","x":1.3,"y":-2.0},{"g":"TCGA","x":2.4,"y":-2.3},{"g":"TCGA","x":3.5,"y":-1.9},{"g":"TCGA","x":4.7,"y":-2.2},{"g":"TCGA","x":5.9,"y":-2.0},{"g":"TCGA","x":7.1,"y":-2.3},{"g":"TCGA","x":8.4,"y":-1.9},{"g":"TCGA","x":9.7,"y":-2.2},
{"g":"TCGA","x":-9.3,"y":-3.0},{"g":"TCGA","x":-8.0,"y":-2.8},{"g":"TCGA","x":-6.8,"y":-3.1},{"g":"TCGA","x":-5.7,"y":-2.7},{"g":"TCGA","x":-4.6,"y":-3.0},{"g":"TCGA","x":-3.5,"y":-2.8},{"g":"TCGA","x":-2.4,"y":-3.1},{"g":"TCGA","x":-1.3,"y":-2.7},{"g":"TCGA","x":-0.2,"y":-3.0},{"g":"TCGA","x":0.9,"y":-2.8},{"g":"TCGA","x":2.0,"y":-3.1},{"g":"TCGA","x":3.1,"y":-2.7},{"g":"TCGA","x":4.2,"y":-3.0},{"g":"TCGA","x":5.4,"y":-2.8},{"g":"TCGA","x":6.6,"y":-3.1},{"g":"TCGA","x":7.8,"y":-2.7},{"g":"TCGA","x":9.1,"y":-3.0},{"g":"TCGA","x":10.4,"y":-2.8},
{"g":"TCGA","x":-8.4,"y":-3.8},{"g":"TCGA","x":-7.2,"y":-3.6},{"g":"TCGA","x":-6.1,"y":-3.9},{"g":"TCGA","x":-5.0,"y":-3.5},{"g":"TCGA","x":-3.9,"y":-3.8},{"g":"TCGA","x":-2.8,"y":-3.6},{"g":"TCGA","x":-1.7,"y":-3.9},{"g":"TCGA","x":-0.6,"y":-3.5},{"g":"TCGA","x":0.5,"y":-3.8},{"g":"TCGA","x":1.6,"y":-3.6},{"g":"TCGA","x":2.7,"y":-3.9},{"g":"TCGA","x":3.9,"y":-3.5},{"g":"TCGA","x":5.1,"y":-3.8},{"g":"TCGA","x":6.3,"y":-3.6},{"g":"TCGA","x":7.5,"y":-3.9},{"g":"TCGA","x":8.8,"y":-3.5},
{"g":"TCGA","x":-7.5,"y":-4.6},{"g":"TCGA","x":-6.4,"y":-4.4},{"g":"TCGA","x":-5.3,"y":-4.7},{"g":"TCGA","x":-4.2,"y":-4.3},{"g":"TCGA","x":-3.1,"y":-4.6},{"g":"TCGA","x":-2.0,"y":-4.4},{"g":"TCGA","x":-0.9,"y":-4.7},{"g":"TCGA","x":0.2,"y":-4.3},{"g":"TCGA","x":1.3,"y":-4.6},{"g":"TCGA","x":2.4,"y":-4.4},{"g":"TCGA","x":3.6,"y":-4.7},{"g":"TCGA","x":4.8,"y":-4.3},{"g":"TCGA","x":6.0,"y":-4.6},{"g":"TCGA","x":7.3,"y":-4.4},{"g":"TCGA","x":8.6,"y":-4.7},
{"g":"TCGA","x":-6.8,"y":-5.4},{"g":"TCGA","x":-5.6,"y":-5.2},{"g":"TCGA","x":-4.5,"y":-5.5},{"g":"TCGA","x":-3.4,"y":-5.1},{"g":"TCGA","x":-2.3,"y":-5.4},{"g":"TCGA","x":-1.2,"y":-5.2},{"g":"TCGA","x":-0.1,"y":-5.5},{"g":"TCGA","x":1.0,"y":-5.1},{"g":"TCGA","x":2.1,"y":-5.4},{"g":"TCGA","x":3.3,"y":-5.2},{"g":"TCGA","x":4.5,"y":-5.5},{"g":"TCGA","x":5.7,"y":-5.1},{"g":"TCGA","x":7.0,"y":-5.4},{"g":"TCGA","x":8.3,"y":-5.2},
{"g":"TCGA","x":-6.0,"y":-6.2},{"g":"TCGA","x":-4.8,"y":-6.0},{"g":"TCGA","x":-3.6,"y":-6.3},{"g":"TCGA","x":-2.5,"y":-5.9},{"g":"TCGA","x":-1.4,"y":-6.2},{"g":"TCGA","x":-0.3,"y":-6.0},{"g":"TCGA","x":0.8,"y":-6.3},{"g":"TCGA","x":2.0,"y":-5.9},{"g":"TCGA","x":3.2,"y":-6.2},{"g":"TCGA","x":4.4,"y":-6.0},{"g":"TCGA","x":5.7,"y":-6.3},{"g":"TCGA","x":7.1,"y":-6.0},
{"g":"TCGA","x":-5.3,"y":-7.0},{"g":"TCGA","x":-4.0,"y":-6.8},{"g":"TCGA","x":-2.8,"y":-7.1},{"g":"TCGA","x":-1.6,"y":-6.7},{"g":"TCGA","x":-0.4,"y":-7.0},{"g":"TCGA","x":0.8,"y":-6.8},{"g":"TCGA","x":2.1,"y":-7.1},{"g":"TCGA","x":3.4,"y":-6.7},{"g":"TCGA","x":4.8,"y":-7.0},{"g":"TCGA","x":6.2,"y":-6.8},
{"g":"TCGA","x":-4.4,"y":-7.8},{"g":"TCGA","x":-2.9,"y":-7.6},{"g":"TCGA","x":-1.4,"y":-7.9},{"g":"TCGA","x":0.1,"y":-7.5},{"g":"TCGA","x":1.6,"y":-7.8},{"g":"TCGA","x":3.1,"y":-7.6},{"g":"TCGA","x":4.6,"y":-7.9},
{"g":"TCGA","x":-2.0,"y":-8.6},{"g":"TCGA","x":-0.3,"y":-8.4},{"g":"TCGA","x":1.3,"y":-8.7},{"g":"TCGA","x":2.9,"y":-8.5},{"g":"TCGA","x":4.4,"y":-8.2},
{"g":"TCGA","x":-3.5,"y":4.7},{"g":"TCGA","x":-2.4,"y":4.8},{"g":"TCGA","x":-1.3,"y":4.6},{"g":"TCGA","x":-0.2,"y":4.7},{"g":"TCGA","x":0.9,"y":4.8},{"g":"TCGA","x":2.0,"y":4.6},{"g":"TCGA","x":3.1,"y":4.7},{"g":"TCGA","x":4.2,"y":4.8},{"g":"TCGA","x":5.3,"y":4.6},
{"g":"TCGA","x":-3.5,"y":3.9},{"g":"TCGA","x":-2.4,"y":4.0},{"g":"TCGA","x":-1.3,"y":3.8},{"g":"TCGA","x":-0.2,"y":3.9},{"g":"TCGA","x":0.9,"y":4.0},{"g":"TCGA","x":2.0,"y":3.8},{"g":"TCGA","x":3.1,"y":3.9},{"g":"TCGA","x":4.2,"y":4.0},{"g":"TCGA","x":5.3,"y":3.8},
{"g":"TCGA","x":-3.5,"y":3.1},{"g":"TCGA","x":-2.4,"y":3.2},{"g":"TCGA","x":-1.3,"y":3.0},{"g":"TCGA","x":-0.2,"y":3.1},{"g":"TCGA","x":0.9,"y":3.2},{"g":"TCGA","x":2.0,"y":3.0},{"g":"TCGA","x":3.1,"y":3.1},{"g":"TCGA","x":4.2,"y":3.2},{"g":"TCGA","x":5.3,"y":3.0},
{"g":"TCGA","x":-3.5,"y":2.3},{"g":"TCGA","x":-2.4,"y":2.4},{"g":"TCGA","x":-1.3,"y":2.2},{"g":"TCGA","x":-0.2,"y":2.3},{"g":"TCGA","x":0.9,"y":2.4},{"g":"TCGA","x":2.0,"y":2.2},{"g":"TCGA","x":3.1,"y":2.3},{"g":"TCGA","x":4.2,"y":2.4},{"g":"TCGA","x":5.3,"y":2.2},
{"g":"TCGA","x":-3.5,"y":1.5},{"g":"TCGA","x":-2.4,"y":1.6},{"g":"TCGA","x":-1.3,"y":1.4},{"g":"TCGA","x":-0.2,"y":1.5},{"g":"TCGA","x":0.9,"y":1.6},{"g":"TCGA","x":2.0,"y":1.4},{"g":"TCGA","x":3.1,"y":1.5},{"g":"TCGA","x":4.2,"y":1.6},{"g":"TCGA","x":5.3,"y":1.4},
{"g":"TCGA","x":-3.5,"y":0.7},{"g":"TCGA","x":-2.4,"y":0.8},{"g":"TCGA","x":-1.3,"y":0.6},{"g":"TCGA","x":-0.2,"y":0.7},{"g":"TCGA","x":0.9,"y":0.8},{"g":"TCGA","x":2.0,"y":0.6},{"g":"TCGA","x":3.1,"y":0.7},{"g":"TCGA","x":4.2,"y":0.8},{"g":"TCGA","x":5.3,"y":0.6},
{"g":"TCGA","x":-3.5,"y":-0.1},{"g":"TCGA","x":-2.4,"y":0.0},{"g":"TCGA","x":-1.3,"y":-0.2},{"g":"TCGA","x":-0.2,"y":-0.1},{"g":"TCGA","x":0.9,"y":0.0},{"g":"TCGA","x":2.0,"y":-0.2},{"g":"TCGA","x":3.1,"y":-0.1},{"g":"TCGA","x":4.2,"y":0.0},{"g":"TCGA","x":5.3,"y":-0.2},
{"g":"TCGA","x":-3.5,"y":-0.9},{"g":"TCGA","x":-2.4,"y":-0.8},{"g":"TCGA","x":-1.3,"y":-1.0},{"g":"TCGA","x":-0.2,"y":-0.9},{"g":"TCGA","x":0.9,"y":-0.8},{"g":"TCGA","x":2.0,"y":-1.0},{"g":"TCGA","x":3.1,"y":-0.9},{"g":"TCGA","x":4.2,"y":-0.8},{"g":"TCGA","x":5.3,"y":-1.0},
{"g":"TCGA","x":-3.5,"y":-1.7},{"g":"TCGA","x":-2.4,"y":-1.6},{"g":"TCGA","x":-1.3,"y":-1.8},{"g":"TCGA","x":-0.2,"y":-1.7},{"g":"TCGA","x":0.9,"y":-1.6},{"g":"TCGA","x":2.0,"y":-1.8},{"g":"TCGA","x":3.1,"y":-1.7},{"g":"TCGA","x":4.2,"y":-1.6},{"g":"TCGA","x":5.3,"y":-1.8},
{"g":"TCGA","x":-3.5,"y":-2.5},{"g":"TCGA","x":-2.4,"y":-2.4},{"g":"TCGA","x":-1.3,"y":-2.6},{"g":"TCGA","x":-0.2,"y":-2.5},{"g":"TCGA","x":0.9,"y":-2.4},{"g":"TCGA","x":2.0,"y":-2.6},{"g":"TCGA","x":3.1,"y":-2.5},{"g":"TCGA","x":4.2,"y":-2.4},{"g":"TCGA","x":5.3,"y":-2.6},
{"g":"TCGA","x":-3.5,"y":-3.3},{"g":"TCGA","x":-2.4,"y":-3.2},{"g":"TCGA","x":-1.3,"y":-3.4},{"g":"TCGA","x":-0.2,"y":-3.3},{"g":"TCGA","x":0.9,"y":-3.2},{"g":"TCGA","x":2.0,"y":-3.4},{"g":"TCGA","x":3.1,"y":-3.3},{"g":"TCGA","x":4.2,"y":-3.2},{"g":"TCGA","x":5.3,"y":-3.4},
{"g":"CPTAC","x":-13.3,"y":22.6},{"g":"CPTAC","x":-9.0,"y":11.8},{"g":"CPTAC","x":-14.7,"y":3.0},{"g":"CPTAC","x":-10.65,"y":3.3},{"g":"CPTAC","x":-5.9,"y":11.3},{"g":"CPTAC","x":-4.4,"y":10.35},{"g":"CPTAC","x":6.7,"y":9.4},{"g":"CPTAC","x":-6.0,"y":6.8},{"g":"CPTAC","x":-4.5,"y":7.2},{"g":"CPTAC","x":2.25,"y":5.65},{"g":"CPTAC","x":3.3,"y":4.8},{"g":"CPTAC","x":2.9,"y":4.4},{"g":"CPTAC","x":5.65,"y":4.8},{"g":"CPTAC","x":8.6,"y":3.8},{"g":"CPTAC","x":6.65,"y":3.5},{"g":"CPTAC","x":-3.5,"y":4.3},{"g":"CPTAC","x":-2.8,"y":3.5},{"g":"CPTAC","x":-3.7,"y":3.1},{"g":"CPTAC","x":-3.15,"y":3.3},{"g":"CPTAC","x":-1.0,"y":3.7},{"g":"CPTAC","x":-0.1,"y":3.9},{"g":"CPTAC","x":0.9,"y":4.5},{"g":"CPTAC","x":1.5,"y":4.3},{"g":"CPTAC","x":1.8,"y":3.5},{"g":"CPTAC","x":-4.1,"y":2.4},{"g":"CPTAC","x":-2.4,"y":2.4},{"g":"CPTAC","x":-1.9,"y":2.1},{"g":"CPTAC","x":6.6,"y":2.4},{"g":"CPTAC","x":5.5,"y":2.1},{"g":"CPTAC","x":6.1,"y":2.3},{"g":"CPTAC","x":3.6,"y":3.1},{"g":"CPTAC","x":3.8,"y":2.5},{"g":"CPTAC","x":0.55,"y":2.7},{"g":"CPTAC","x":1.9,"y":2.4},
{"g":"CPTAC","x":-9.0,"y":-0.4},{"g":"CPTAC","x":-8.2,"y":0.7},{"g":"CPTAC","x":-13.7,"y":-3.2},{"g":"CPTAC","x":-11.7,"y":-2.6},{"g":"CPTAC","x":-19.9,"y":-8.9},{"g":"CPTAC","x":-10.0,"y":-8.6},{"g":"CPTAC","x":-9.0,"y":-11.3},{"g":"CPTAC","x":-0.5,"y":-11.2},{"g":"CPTAC","x":-7.0,"y":-13.3},{"g":"CPTAC","x":-6.85,"y":-14.2},{"g":"CPTAC","x":-4.5,"y":-16.3},{"g":"CPTAC","x":-3.3,"y":-8.3},{"g":"CPTAC","x":-1.9,"y":-8.5},{"g":"CPTAC","x":1.0,"y":-6.75},{"g":"CPTAC","x":-4.7,"y":-4.8},{"g":"CPTAC","x":-1.9,"y":-5.6},{"g":"CPTAC","x":1.3,"y":-4.6},{"g":"CPTAC","x":3.6,"y":-5.2},{"g":"CPTAC","x":5.2,"y":-5.7},{"g":"CPTAC","x":5.65,"y":-4.6},{"g":"CPTAC","x":6.7,"y":-4.6},
{"g":"CPTAC","x":2.7,"y":-1.55},{"g":"CPTAC","x":3.2,"y":-1.95},{"g":"CPTAC","x":2.6,"y":-2.8},{"g":"CPTAC","x":3.0,"y":-3.2},{"g":"CPTAC","x":3.6,"y":-3.6},{"g":"CPTAC","x":4.6,"y":-2.85},{"g":"CPTAC","x":5.5,"y":-1.75},{"g":"CPTAC","x":5.8,"y":-0.65},{"g":"CPTAC","x":1.5,"y":0.9},{"g":"CPTAC","x":2.4,"y":1.0},{"g":"CPTAC","x":3.6,"y":0.7},{"g":"CPTAC","x":5.8,"y":0.7},{"g":"CPTAC","x":7.0,"y":0.3},{"g":"CPTAC","x":-0.7,"y":-2.4},{"g":"CPTAC","x":0.25,"y":-3.4},{"g":"CPTAC","x":-2.8,"y":0.1},{"g":"CPTAC","x":-1.45,"y":-0.9},{"g":"CPTAC","x":-3.7,"y":-0.5},{"g":"CPTAC","x":-5.3,"y":0.1},{"g":"CPTAC","x":0.8,"y":0.2},{"g":"CPTAC","x":1.2,"y":-0.8},{"g":"CPTAC","x":1.9,"y":-1.3},{"g":"CPTAC","x":0.4,"y":1.6},{"g":"CPTAC","x":1.6,"y":1.9},{"g":"CPTAC","x":2.0,"y":0.1},{"g":"CPTAC","x":-0.3,"y":0.9},{"g":"CPTAC","x":4.2,"y":-0.2},{"g":"CPTAC","x":4.8,"y":1.5},{"g":"CPTAC","x":6.5,"y":-2.4},{"g":"CPTAC","x":-2.2,"y":-1.8},{"g":"CPTAC","x":0.5,"y":-1.9},{"g":"CPTAC","x":2.2,"y":-3.9},{"g":"CPTAC","x":4.0,"y":-4.2}
]
},
"vconcat":[
{"width":1347,"height":1,"view":{"fill":"#5A5A5A","stroke":null},"data":{"values":[]},"mark":"point","encoding":{}},
{"hconcat":[
{"width":1,"height":582,"view":{"fill":"#5A5A5A","stroke":null},"data":{"values":[]},"mark":"point","encoding":{}},
{"concat":[
{"width":62,"height":1,"data":{"values":[]},"mark":"point","encoding":{}},
{"width":1,"height":1,"data":{"values":[]},"mark":"point","encoding":{}},
{"width":1,"height":1,"data":{"values":[]},"mark":"point","encoding":{}},
{"width":62,"height":1,"data":{"values":[]},"mark":"point","encoding":{}},
{"width":481,"height":370,
"view":{"stroke":"#1A1A1A","strokeWidth":1.3},
"title":{"text":"A","anchor":"start","frame":"group","fontSize":24,"fontWeight":"bold","font":"Liberation Sans","color":"#000000","dx":-47.7,"offset":-24.3,"dy":9.3,"baseline":"alphabetic"},
"resolve":{"scale":{"color":"independent","shape":"independent","stroke":"independent","size":"independent"},"legend":{"color":"independent","shape":"independent","stroke":"independent","size":"independent"}},
"layer":[
{"data":{"name":"a"},"mark":{"type":"point","filled":true,"opacity":1,"strokeWidth":0},
"encoding":{
"x":{"field":"x","type":"quantitative","scale":{"domain":[-14.96,37.36],"nice":false,"zero":false},"axis":{"values":[-10,-5,0,5,10,15,20,25,30,35],"labelExpr":"datum.value % 10 === 0 ? '' + datum.value : ''","tickOpacity":{"condition":{"test":"datum.value % 10 !== 0","value":0},"value":1},"title":"PC1(35.96%)","titleX":240.5,"titleY":39.7,"titleBaseline":"middle","labelPadding":5.5}},
"y":{"field":"y","type":"quantitative","scale":{"domain":[-14.2,26.15],"nice":false,"zero":false},"axis":{"values":[-10,-5,0,5,10,15,20,25],"labelExpr":"datum.value % 10 === 0 ? '' + datum.value : ''","tickOpacity":{"condition":{"test":"datum.value % 10 !== 0","value":0},"value":1},"title":"PC2(6.62%)","titleX":-39.2,"titleY":185,"titleBaseline":"middle","labelPadding":4}},
"color":{"field":"g","type":"nominal","scale":{"domain":["CPTAC","TCGA"],"range":["#3E3EF8","#C8322A"]},"legend":null},
"shape":{"field":"g","type":"nominal","scale":{"domain":["CPTAC","TCGA"],"range":["M1,0C1,0.3866 0.5523,0.7 0,0.7C-0.5523,0.7 -1,0.3866 -1,0C-1,-0.3866 -0.5523,-0.7 0,-0.7C0.5523,-0.7 1,-0.3866 1,0Z","M0,-0.75L1,0.75L-1,0.75Z"]},"legend":null},
"size":{"field":"g","type":"nominal","scale":{"type":"ordinal","domain":["CPTAC","TCGA"],"range":[81,95]},"legend":null}
}},
{"data":{"name":"ea"},"mark":{"type":"line","interpolate":"cardinal-closed","strokeWidth":1.2},
"encoding":{
"x":{"field":"x","type":"quantitative","title":"PC1(35.96%)","scale":{"domain":[-14.96,37.36],"nice":false,"zero":false}},
"y":{"field":"y","type":"quantitative","title":"PC2(6.62%)","scale":{"domain":[-14.2,26.15],"nice":false,"zero":false}},
"color":{"field":"g","type":"nominal","scale":{"domain":["CPTAC","TCGA"],"range":["#3E3EF8","#C8322A"]},"legend":null},
"order":{"field":"i","type":"quantitative"}}},
{"data":{"values":[{}]},"mark":{"type":"rule","strokeDash":[5,3],"color":"#000000","strokeWidth":1.4},
"encoding":{"x":{"datum":0,"type":"quantitative","title":"PC1(35.96%)","scale":{"domain":[-14.96,37.36],"nice":false,"zero":false}}}},
{"data":{"values":[{}]},"mark":{"type":"rule","strokeDash":[5,3],"color":"#000000","strokeWidth":1.4},
"encoding":{"y":{"datum":0,"type":"quantitative","title":"PC2(6.62%)","scale":{"domain":[-14.2,26.15],"nice":false,"zero":false}}}},
{"data":{"name":"groups"},"mark":{"type":"point","filled":true,"opacity":0,"strokeWidth":1.3},
"encoding":{
"color":{"field":"g","type":"nominal","scale":{"domain":["CPTAC","TCGA"],"range":["#3E3EF8","#C8322A"]},
"legend":{"orient":"none","legendX":338,"legendY":25,"title":null,"padding":8,"fillColor":"white","labelFont":"Liberation Sans","labelFontSize":15.5,"labelColor":"#111111","labelOffset":16,"rowPadding":13,"symbolSize":64,"symbolStrokeWidth":1.3,"symbolOpacity":1}},
"stroke":{"field":"g","type":"nominal","scale":{"domain":["CPTAC","TCGA"],"range":["#3E3EF8","#C8322A"]}},
"shape":{"field":"g","type":"nominal","scale":{"domain":["CPTAC","TCGA"],"range":["M-3,0L3,0M0.95,0C0.95,0.525 0.525,0.95 0,0.95C-0.525,0.95 -0.95,0.525 -0.95,0C-0.95,-0.525 -0.525,-0.95 0,-0.95C0.525,-0.95 0.95,-0.525 0.95,0ZM0.7,0C0.7,0.387 0.387,0.7 0,0.7C-0.387,0.7 -0.7,0.387 -0.7,0C-0.7,-0.387 -0.387,-0.7 0,-0.7C0.387,-0.7 0.7,-0.387 0.7,0ZM0.45,0C0.45,0.249 0.249,0.45 0,0.45C-0.249,0.45 -0.45,0.249 -0.45,0C-0.45,-0.249 -0.249,-0.45 0,-0.45C0.249,-0.45 0.45,-0.249 0.45,0ZM0.2,0C0.2,0.11 0.11,0.2 0,0.2C-0.11,0.2 -0.2,0.11 -0.2,0C-0.2,-0.11 -0.11,-0.2 0,-0.2C0.11,-0.2 0.2,-0.11 0.2,0Z","M-3,0.8L3,0.8M0,-1.2L1.1,1L-1.1,1ZM0,-0.833L0.825,0.817L-0.825,0.817ZM0,-0.467L0.55,0.633L-0.55,0.633ZM0,-0.1L0.275,0.45L-0.275,0.45Z"]}}
}}
]},
{"width":491,"height":370,
"view":{"stroke":"#1A1A1A","strokeWidth":1.3},
"title":{"text":"B","anchor":"start","frame":"group","fontSize":24,"fontWeight":"bold","font":"Liberation Sans","color":"#000000","dx":-72.7,"offset":-23.3,"dy":8.3,"baseline":"alphabetic"},
"resolve":{"scale":{"color":"independent","shape":"independent","stroke":"independent","size":"independent"},"legend":{"color":"independent","shape":"independent","stroke":"independent","size":"independent"}},
"layer":[
{"data":{"name":"b"},"mark":{"type":"point","filled":true,"opacity":1,"strokeWidth":0},
"encoding":{
"x":{"field":"x","type":"quantitative","scale":{"domain":[-30.45,14.95],"nice":false,"zero":false},"axis":{"values":[-30,-25,-20,-15,-10,-5,0,5,10],"labelExpr":"datum.value % 10 === 0 ? '' + datum.value : ''","tickOpacity":{"condition":{"test":"datum.value % 10 !== 0","value":0},"value":1},"title":"PC1(10.85%)","titleX":228.3,"titleY":31.3,"titleBaseline":"middle","labelPadding":4.4}},
"y":{"field":"y","type":"quantitative","scale":{"domain":[-20.65,24.47],"nice":false,"zero":false},"axis":{"values":[-20,-15,-10,-5,0,5,10,15,20],"labelExpr":"datum.value % 10 === 0 ? '' + datum.value : ''","tickOpacity":{"condition":{"test":"datum.value % 10 !== 0","value":0},"value":1},"title":"PC2(8.83%)","titleX":-34.1,"titleY":183,"titleBaseline":"middle","labelPadding":6.5}},
"color":{"field":"g","type":"nominal","scale":{"domain":["CPTAC","TCGA"],"range":["#3E3EF8","#C8322A"]},"legend":null},
"shape":{"field":"g","type":"nominal","scale":{"domain":["CPTAC","TCGA"],"range":["M1,0C1,0.3866 0.5523,0.7 0,0.7C-0.5523,0.7 -1,0.3866 -1,0C-1,-0.3866 -0.5523,-0.7 0,-0.7C0.5523,-0.7 1,-0.3866 1,0Z","M0,-0.75L1,0.75L-1,0.75Z"]},"legend":null},
"size":{"field":"g","type":"nominal","scale":{"type":"ordinal","domain":["CPTAC","TCGA"],"range":[81,95]},"legend":null}
}},
{"data":{"name":"eb"},"mark":{"type":"line","interpolate":"cardinal-closed","strokeWidth":1.2},
"encoding":{
"x":{"field":"x","type":"quantitative","title":"PC1(10.85%)","scale":{"domain":[-30.45,14.95],"nice":false,"zero":false}},
"y":{"field":"y","type":"quantitative","title":"PC2(8.83%)","scale":{"domain":[-20.65,24.47],"nice":false,"zero":false}},
"color":{"field":"g","type":"nominal","scale":{"domain":["CPTAC","TCGA"],"range":["#3E3EF8","#C8322A"]},"legend":null},
"order":{"field":"i","type":"quantitative"}}},
{"data":{"values":[{}]},"mark":{"type":"rule","strokeDash":[5,3],"color":"#000000","strokeWidth":1.4},
"encoding":{"x":{"datum":0,"type":"quantitative","title":"PC1(10.85%)","scale":{"domain":[-30.45,14.95],"nice":false,"zero":false}}}},
{"data":{"values":[{}]},"mark":{"type":"rule","strokeDash":[5,3],"color":"#000000","strokeWidth":1.4},
"encoding":{"y":{"datum":0,"type":"quantitative","title":"PC2(8.83%)","scale":{"domain":[-20.65,24.47],"nice":false,"zero":false}}}},
{"data":{"name":"groups"},"mark":{"type":"point","filled":true,"opacity":0,"strokeWidth":1.3},
"encoding":{
"color":{"field":"g","type":"nominal","scale":{"domain":["CPTAC","TCGA"],"range":["#3E3EF8","#C8322A"]},
"legend":{"orient":"none","legendX":367.5,"legendY":22.3,"title":null,"padding":8,"fillColor":"white","labelFont":"Liberation Sans","labelFontSize":15.5,"labelColor":"#111111","labelOffset":16,"rowPadding":13,"symbolSize":64,"symbolStrokeWidth":1.3,"symbolOpacity":1}},
"stroke":{"field":"g","type":"nominal","scale":{"domain":["CPTAC","TCGA"],"range":["#3E3EF8","#C8322A"]}},
"shape":{"field":"g","type":"nominal","scale":{"domain":["CPTAC","TCGA"],"range":["M-3,0L3,0M0.95,0C0.95,0.525 0.525,0.95 0,0.95C-0.525,0.95 -0.95,0.525 -0.95,0C-0.95,-0.525 -0.525,-0.95 0,-0.95C0.525,-0.95 0.95,-0.525 0.95,0ZM0.7,0C0.7,0.387 0.387,0.7 0,0.7C-0.387,0.7 -0.7,0.387 -0.7,0C-0.7,-0.387 -0.387,-0.7 0,-0.7C0.387,-0.7 0.7,-0.387 0.7,0ZM0.45,0C0.45,0.249 0.249,0.45 0,0.45C-0.249,0.45 -0.45,0.249 -0.45,0C-0.45,-0.249 -0.249,-0.45 0,-0.45C0.249,-0.45 0.45,-0.249 0.45,0ZM0.2,0C0.2,0.11 0.11,0.2 0,0.2C-0.11,0.2 -0.2,0.11 -0.2,0C-0.2,-0.11 -0.11,-0.2 0,-0.2C0.11,-0.2 0.2,-0.11 0.2,0Z","M-3,0.8L3,0.8M0,-1.2L1.1,1L-1.1,1ZM0,-0.833L0.825,0.817L-0.825,0.817ZM0,-0.467L0.55,0.633L-0.55,0.633ZM0,-0.1L0.275,0.45L-0.275,0.45Z"]}}
}}
]},
{"width":62,"height":150,
"data":{"name":"cap"},
"encoding":{
"x":{"datum":0,"type":"quantitative","scale":{"domain":[0,1]},"axis":null},
"y":{"field":"line","type":"quantitative","scale":{"domain":[-1.064,4.936],"reverse":true,"nice":false,"zero":false},"axis":null},
"text":{"field":"text","type":"nominal"}},
"layer":[
{"transform":[{"filter":"datum.line === 1 && datum.part === 1"}],"mark":{"type":"text","align":"left","baseline":"middle","dx":0,"font":"Liberation Sans","fontSize":18,"fontWeight":"bold","color":"#1A1A1A"}},
{"transform":[{"filter":"datum.line === 1 && datum.part === 2"}],"mark":{"type":"text","align":"left","baseline":"middle","dx":96.8,"font":"Liberation Sans","fontSize":18,"fontWeight":"normal","color":"#1A1A1A"}},
{"transform":[{"filter":"datum.line === 1 && datum.part === 3"}],"mark":{"type":"text","align":"left","baseline":"middle","dx":788.2,"font":"Liberation Sans","fontSize":18,"fontWeight":"bold","color":"#1A1A1A"}},
{"transform":[{"filter":"datum.line === 1 && datum.part === 4"}],"mark":{"type":"text","align":"left","baseline":"middle","dx":817.8,"font":"Liberation Sans","fontSize":18,"fontWeight":"normal","color":"#1A1A1A"}},
{"transform":[{"filter":"datum.line > 1 && datum.part === 1"}],"mark":{"type":"text","align":"left","baseline":"middle","dx":0,"font":"Liberation Sans","fontSize":18,"fontWeight":"normal","color":"#1A1A1A"}},
{"transform":[{"filter":"datum.line === 2 && datum.part === 2"}],"mark":{"type":"text","align":"left","baseline":"middle","dx":526.5,"font":"Liberation Sans","fontSize":18,"fontWeight":"bold","color":"#1A1A1A"}},
{"transform":[{"filter":"datum.line === 2 && datum.part === 3"}],"mark":{"type":"text","align":"left","baseline":"middle","dx":556.1,"font":"Liberation Sans","fontSize":18,"fontWeight":"normal","color":"#1A1A1A"}}
]}
],"columns":3,"spacing":{"row":26.7,"column":90.7},"bounds":"flush",
"resolve":{"scale":{"color":"independent","shape":"independent","size":"independent","stroke":"independent"},"legend":{"color":"independent","shape":"independent","size":"independent","stroke":"independent"}}}
],"spacing":13,"bounds":"flush"}
],
"spacing":0,
"bounds":"flush"
}
